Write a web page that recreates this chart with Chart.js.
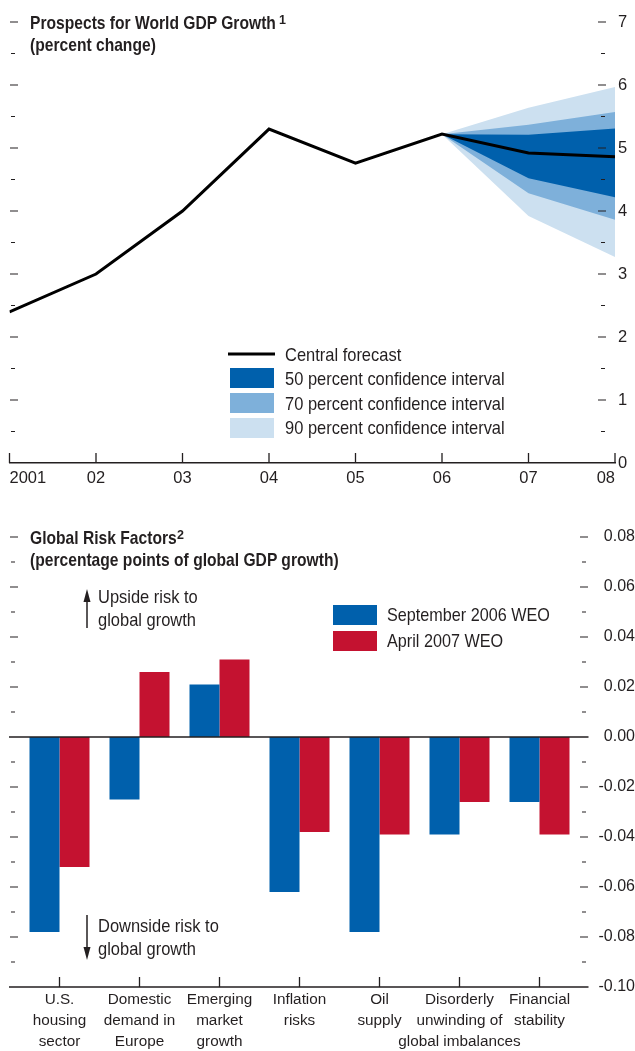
<!DOCTYPE html>
<html><head><meta charset="utf-8">
<title>World GDP growth prospects and global risk factors</title>
<script src="https://cdn.jsdelivr.net/npm/chart.js@4.4.1/dist/chart.umd.min.js"></script>
<style>
html,body{margin:0;padding:0;background:#fff}
body{position:relative;width:635px;height:1051px;overflow:hidden;font-family:"Liberation Sans",Arial,Helvetica,sans-serif;color:#231f20}
canvas{position:absolute;left:0}
#gdp{top:0}
#risk{top:500px}
.t{position:absolute;white-space:nowrap;font-size:18.5px;line-height:1;transform:scaleX(.89);transform-origin:0 0}
.h{position:absolute;white-space:nowrap;font-size:18.6px;line-height:1;font-weight:bold;transform:scaleX(.84);transform-origin:0 0}
.s{position:absolute;font-size:12.5px;line-height:1;font-weight:bold}
svg{position:absolute;left:0;top:0}
</style></head><body>
<canvas id="gdp" width="635" height="500"></canvas>
<canvas id="risk" width="635" height="551"></canvas>

<svg width="635" height="1051">
  <line x1="228" y1="354" x2="275" y2="354" stroke="#000" stroke-width="3"/>
  <rect x="230" y="368" width="44" height="20" fill="#0060AC"/>
  <rect x="230" y="393" width="44" height="20" fill="#7EB0DA"/>
  <rect x="230" y="418" width="44" height="20" fill="#CCE0F0"/>
  <rect x="333" y="605" width="44" height="20" fill="#0060AC"/>
  <rect x="333" y="631" width="44" height="20" fill="#C41230"/>
  <line x1="87" y1="598" x2="87" y2="628" stroke="#231f20" stroke-width="1.5"/>
  <polygon points="87,589 83.5,602 90.5,602" fill="#231f20"/>
  <line x1="87" y1="915" x2="87" y2="950" stroke="#231f20" stroke-width="1.5"/>
  <polygon points="87,960 83.5,947 90.5,947" fill="#231f20"/>
</svg>

<div class="h" style="left:30px;top:14.3px">Prospects for World GDP Growth</div>
<div class="s" style="left:279px;top:14.4px">1</div>
<div class="h" style="left:30px;top:36.3px">(percent change)</div>

<div class="t" style="left:285px;top:345.8px">Central forecast</div>
<div class="t" style="left:285px;top:370.3px">50 percent confidence interval</div>
<div class="t" style="left:285px;top:394.8px">70 percent confidence interval</div>
<div class="t" style="left:285px;top:419.3px">90 percent confidence interval</div>

<div class="h" style="left:30px;top:529.3px">Global Risk Factors</div>
<div class="s" style="left:177px;top:529.4px">2</div>
<div class="h" style="left:30px;top:551.3px">(percentage points of global GDP growth)</div>

<div class="t" style="left:98px;top:588.3px">Upside risk to</div>
<div class="t" style="left:98px;top:611.3px">global growth</div>
<div class="t" style="left:98px;top:917.3px">Downside risk to</div>
<div class="t" style="left:98px;top:940.3px">global growth</div>

<div class="t" style="left:387px;top:605.8px;transform:scaleX(.875)">September 2006 WEO</div>
<div class="t" style="left:387px;top:631.8px;transform:scaleX(.875)">April 2007 WEO</div>

<script>
// ---------- Data: World GDP growth (percent change) ----------
const years = [2001, 2002, 2003, 2004, 2005, 2006, 2007, 2008];
const yearLabels = ['2001', '02', '03', '04', '05', '06', '07', '08'];
const centralForecast = [2.4, 3.0, 4.0, 5.3, 4.76, 5.22, 4.92, 4.86];
const fanYears = [2006, 2007, 2008];
const upper90 = [5.22, 5.64, 5.97];
const upper70 = [5.22, 5.37, 5.57];
const upper50 = [5.22, 5.21, 5.31];
const lower50 = [5.22, 4.52, 4.22];
const lower70 = [5.22, 4.28, 3.86];
const lower90 = [5.22, 3.92, 3.27];

// ---------- Data: Global risk factors (percentage points) ----------
const riskCategories = [
  ['U.S.', 'housing', 'sector'],
  ['Domestic', 'demand in', 'Europe'],
  ['Emerging', 'market', 'growth'],
  ['Inflation', 'risks'],
  ['Oil', 'supply'],
  ['Disorderly', 'unwinding of', 'global imbalances'],
  ['Financial', 'stability']
];
const sept2006 = [-0.078, -0.025, 0.021, -0.062, -0.078, -0.039, -0.026];
const apr2007 = [-0.052, 0.026, 0.031, -0.038, -0.039, -0.026, -0.039];

// ---------- Styles ----------
const FONT = '"Liberation Sans", Arial, Helvetica, sans-serif';
const INK = '#231f20';
const DARK = '#0060AC', MID = '#7EB0DA', LIGHT = '#CCE0F0', RED = '#C41230';

const pts = (xs, ys) => xs.map((x, i) => ({x, y: ys[i]}));

function sideTicks(cfg) {
  return {
    id: 'sideTicks',
    afterDatasetsDraw(chart) {
      const {ctx, chartArea: a} = chart;
      const ys = chart.scales.y;
      ctx.save();
      ctx.strokeStyle = INK;
      ctx.lineWidth = 1.2;
      ys.ticks.forEach(t => {
        if (cfg.skip(t.value)) return;
        const y = ys.getPixelForValue(t.value);
        const major = cfg.isMajor(t.value);
        const L = major ? cfg.leftMajor : cfg.leftMinor;
        const R = major ? cfg.rightMajor : cfg.rightMinor;
        ctx.beginPath();
        ctx.moveTo(a.left + L[0], y); ctx.lineTo(a.left + L[1], y);
        ctx.moveTo(a.right + R[0], y); ctx.lineTo(a.right + R[1], y);
        ctx.stroke();
      });
      if (cfg.extra) cfg.extra(chart, ctx);
      ctx.restore();
    }
  };
}

const band = (data, color, fill, order) => ({
  data, backgroundColor: color, borderColor: 'transparent', borderWidth: 0,
  pointRadius: 0, fill, order, tension: 0
});

// ---------- Top chart ----------
new Chart(document.getElementById('gdp'), {
  type: 'line',
  data: {
    datasets: [
      {label: 'Central forecast', data: pts(years, centralForecast), borderColor: '#000',
       borderWidth: 3, pointRadius: 0, fill: false, order: 0, tension: 0},
      band(pts(fanYears, upper50), DARK, '+1', 1),
      band(pts(fanYears, lower50), DARK, false, 1),
      band(pts(fanYears, upper70), MID, '+1', 2),
      band(pts(fanYears, lower70), MID, false, 2),
      band(pts(fanYears, upper90), LIGHT, '+1', 3),
      band(pts(fanYears, lower90), LIGHT, false, 3)
    ]
  },
  options: {
    responsive: false, animation: false, events: [],
    layout: {padding: {left: 9.5, top: 22, right: 0, bottom: 0}},
    plugins: {legend: {display: false}, tooltip: {enabled: false}},
    scales: {
      x: {
        type: 'linear', min: 2001, max: 2008,
        grid: {display: false, drawTicks: false},
        border: {display: true, color: INK, width: 1.5},
        ticks: {stepSize: 1, align: 'inner', padding: 6, color: INK, maxRotation: 0,
                font: {family: FONT, size: 16.5},
                callback: v => { const i = years.indexOf(v); return i >= 0 ? yearLabels[i] : ''; }},
        afterFit: s => { s.height = 37; }
      },
      y: {
        position: 'right', min: 0, max: 7,
        grid: {display: false, drawTicks: false},
        border: {display: false},
        ticks: {stepSize: 0.5, padding: 3, color: INK, font: {family: FONT, size: 16.5},
                callback: v => Number.isInteger(v) ? String(v) : ''},
        afterFit: s => { s.width = 20; }
      }
    }
  },
  plugins: [sideTicks({
    skip: v => v === 0,
    isMajor: v => Number.isInteger(v),
    leftMajor: [0.5, 8.5], leftMinor: [1.5, 5.5],
    rightMajor: [-17, -9], rightMinor: [-14, -10],
    extra: (chart, ctx) => {
      const xs = chart.scales.x, a = chart.chartArea;
      ctx.lineWidth = 1.3;
      ctx.beginPath();
      xs.ticks.forEach(t => {
        const x = xs.getPixelForValue(t.value);
        ctx.moveTo(x, a.bottom); ctx.lineTo(x, a.bottom - 10);
      });
      ctx.stroke();
    }
  })]
});

// ---------- Bottom chart ----------
new Chart(document.getElementById('risk'), {
  type: 'bar',
  data: {
    labels: riskCategories,
    datasets: [
      {label: 'September 2006 WEO', data: sept2006, backgroundColor: DARK,
       categoryPercentage: 0.75, barPercentage: 1.0, borderWidth: 0},
      {label: 'April 2007 WEO', data: apr2007, backgroundColor: RED,
       categoryPercentage: 0.75, barPercentage: 1.0, borderWidth: 0}
    ]
  },
  options: {
    responsive: false, animation: false, events: [],
    layout: {padding: {left: 19.5, top: 37, right: 0, bottom: 0}},
    plugins: {legend: {display: false}, tooltip: {enabled: false}},
    scales: {
      x: {
        grid: {display: false, drawTicks: false},
        border: {display: false},
        ticks: {padding: 2.5, color: INK, maxRotation: 0, autoSkip: false,
                font: {family: FONT, size: 15.3, lineHeight: '21px'}},
        afterFit: s => { s.height = 64; }
      },
      y: {
        position: 'right', min: -0.1, max: 0.08,
        grid: {display: false, drawTicks: false},
        border: {display: false},
        ticks: {stepSize: 0.01, padding: 16.5, crossAlign: 'far', color: INK,
                font: {family: FONT, size: 16},
                callback: v => { const k = Math.round(v * 100); return k % 2 === 0 ? (k / 100).toFixed(2) : ''; }},
        afterFit: s => { s.width = 55.5; }
      }
    }
  },
  plugins: [sideTicks({
    skip: v => Math.round(v * 100) === 0 || Math.round(v * 100) === -10,
    isMajor: v => Math.round(v * 100) % 2 === 0,
    leftMajor: [-9.5, -1.5], leftMinor: [-8.5, -4.5],
    rightMajor: [0.5, 8.5], rightMinor: [2.5, 6.5],
    extra: (chart, ctx) => {
      const xs = chart.scales.x, ys = chart.scales.y, a = chart.chartArea;
      const x0 = a.left - 10.5, x1 = a.right + 9;
      ctx.lineWidth = 1.5;
      ctx.beginPath();
      ctx.moveTo(x0, a.bottom); ctx.lineTo(x1, a.bottom);
      const yz = ys.getPixelForValue(0);
      ctx.moveTo(x0, yz); ctx.lineTo(x1, yz);
      ctx.stroke();
      ctx.lineWidth = 1.3;
      ctx.beginPath();
      xs.ticks.forEach((t, i) => {
        const x = xs.getPixelForTick(i);
        ctx.moveTo(x, a.bottom); ctx.lineTo(x, a.bottom - 10);
      });
      ctx.stroke();
    }
  })]
});
</script>
</body></html>
